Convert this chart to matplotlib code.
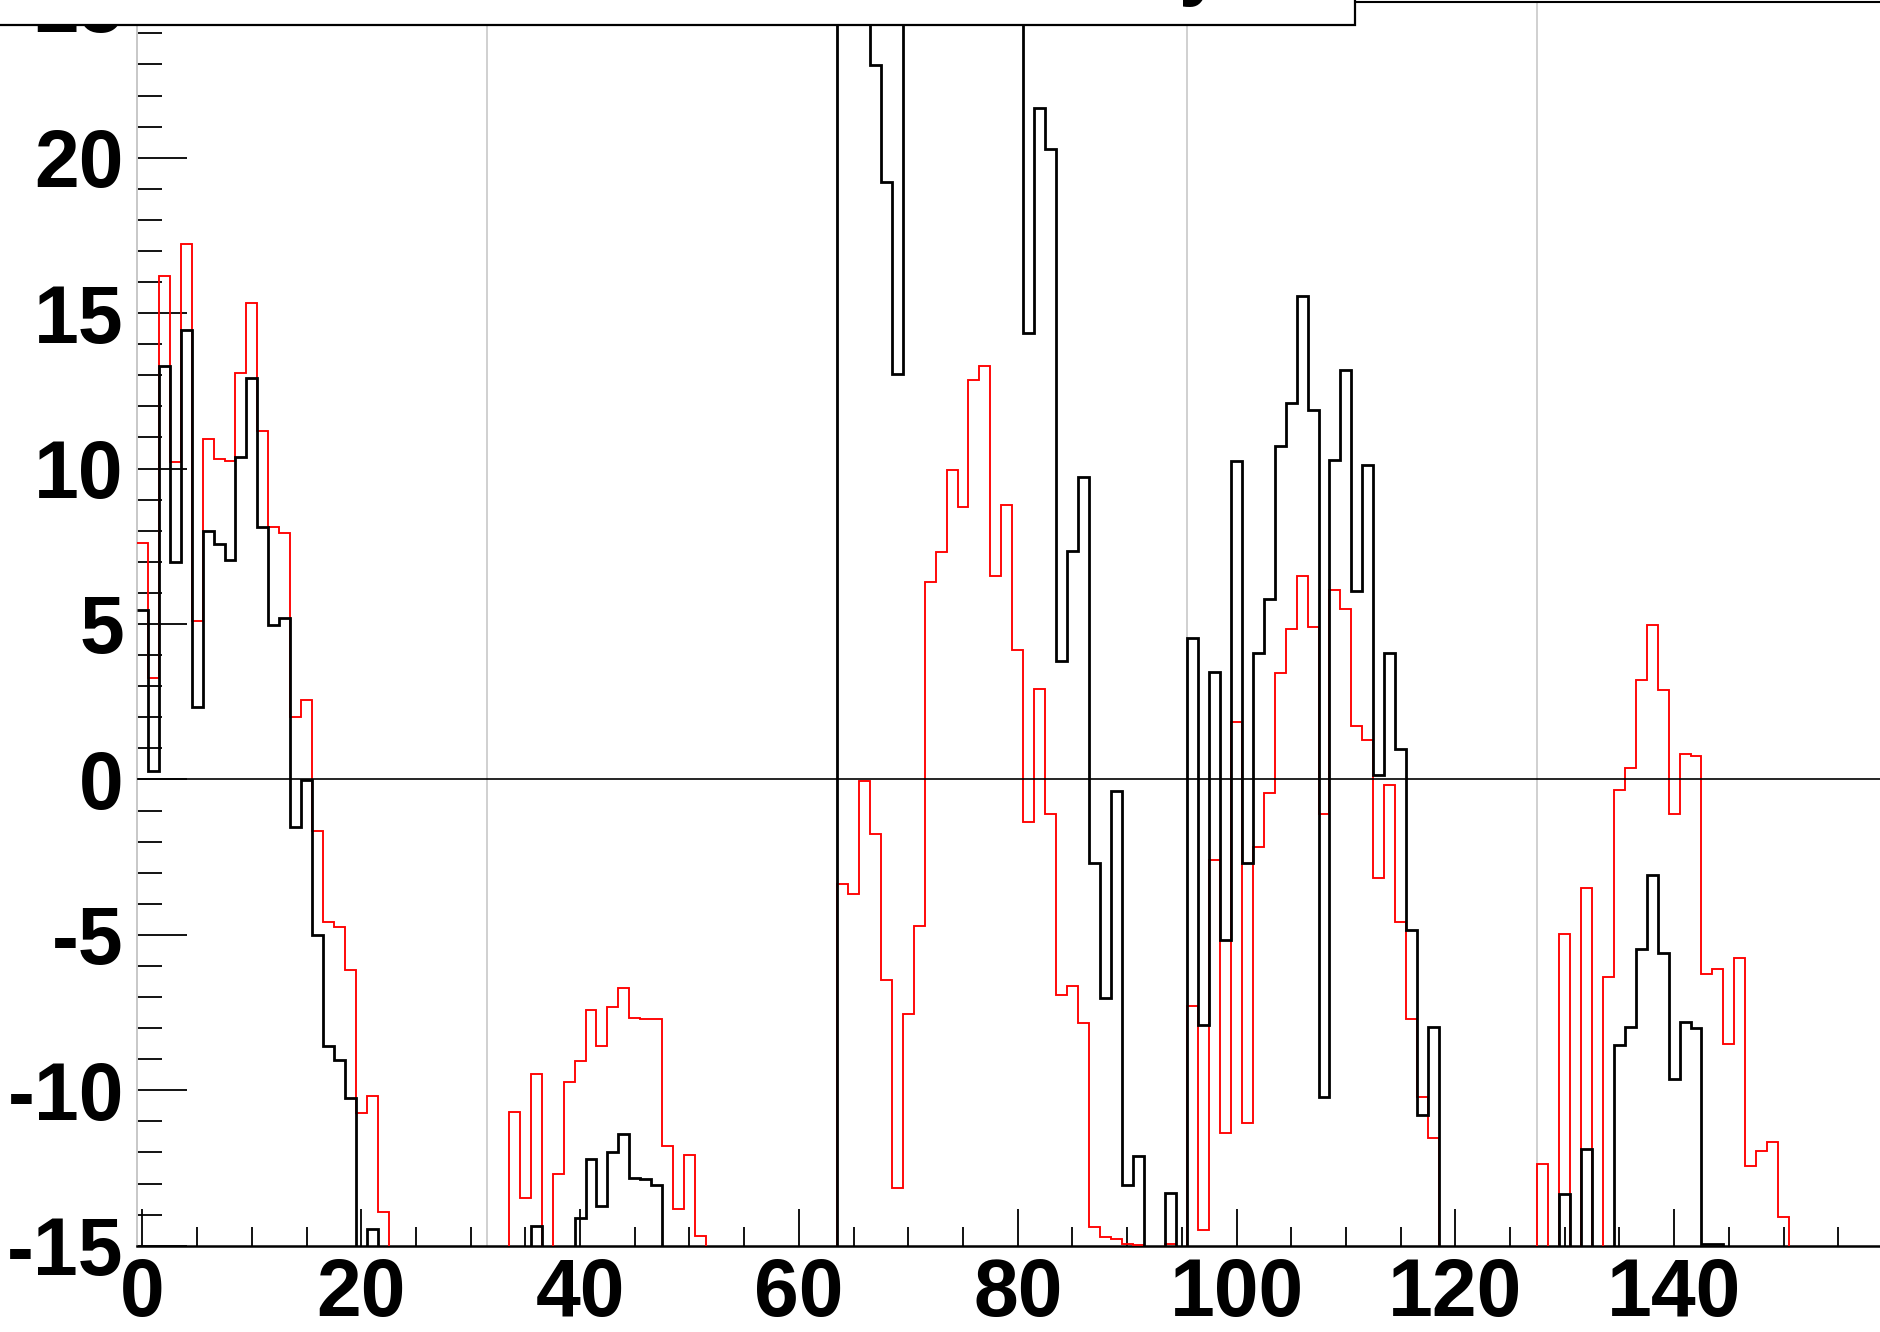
import numpy as np
import matplotlib
matplotlib.use("Agg")
import matplotlib.pyplot as plt
from matplotlib.ticker import MultipleLocator
from matplotlib.patches import Rectangle

plt.rcParams['font.family'] = ['Liberation Sans', 'DejaVu Sans']
plt.rcParams['axes.unicode_minus'] = False

# Off-scale placeholders (bins drawn beyond the visible frame)
LO = -16.0
HI = 26.0

# bin centres 0..159 (unit-width bins)
bin_centres = list(range(160))

red_values = [
    7.59, 3.26, 16.2, 10.2, 17.24, 5.1, 10.96, 10.3, 10.24, 13.09,      # 0-9
    15.33, 11.2, 8.13, 7.93, 2.0, 2.54, -1.65, -4.6, -4.74, -6.13,      # 10-19
    -10.72, -10.2, -13.9, LO, LO, LO, LO, LO, LO, LO,                   # 20-29
    LO, LO, LO, LO, -10.7, -13.46, -9.48, LO, -12.69, -9.74,            # 30-39
    -9.07, -7.41, -8.57, -7.32, -6.72, -7.67, -7.7, -7.7, -11.79, -13.81,  # 40-49
    -12.09, -14.7, LO, LO, LO, LO, LO, LO, LO, LO,                      # 50-59
    LO, LO, LO, LO, -3.38, -3.67, -0.05, -1.77, -6.46, -13.15,          # 60-69
    -7.54, -4.72, 6.36, 7.33, 9.95, 8.77, 12.85, 13.31, 6.54, 8.82,     # 70-79
    4.16, -1.36, 2.9, -1.1, -6.95, -6.64, -7.82, -14.41, -14.72, -14.79,  # 80-89
    -14.95, -14.97, LO, LO, -14.95, LO, -7.29, -14.49, -2.59, -11.37,   # 90-99
    1.86, -11.05, -2.18, -0.44, 3.42, 4.83, 6.54, 4.89, -1.1, 6.08,     # 100-109
    5.47, 1.73, 1.26, -3.17, -0.17, -4.6, -7.7, -10.23, -11.52, LO,     # 110-119
    LO, LO, LO, LO, LO, LO, LO, LO, -12.37, LO,                          # 120-129
    -4.97, LO, -3.49, LO, -6.36, -0.33, 0.37, 3.19, 4.98, 2.89,         # 130-139
    -1.11, 0.83, 0.75, -6.26, -6.09, -8.51, -5.75, -12.42, -11.94, -11.68,  # 140-149
    -14.09, LO, LO, LO, LO, LO, LO, LO, LO, LO,                         # 150-159
]

black_values = [
    5.46, 0.26, 13.3, 6.98, 14.46, 2.33, 7.98, 7.57, 7.07, 10.37,       # 0-9
    12.91, 8.11, 4.98, 5.2, -1.54, -0.02, -5.0, -8.57, -9.02, -10.24,   # 10-19
    LO, -14.46, LO, LO, LO, LO, LO, LO, LO, LO,                         # 20-29
    LO, LO, LO, LO, LO, LO, -14.38, LO, LO, LO,                         # 30-39
    -14.11, -12.2, -13.71, -11.98, -11.4, -12.82, -12.86, -13.04, LO, LO,  # 40-49
    LO, LO, LO, LO, LO, LO, LO, LO, LO, LO,                             # 50-59
    LO, LO, LO, LO, HI, HI, HI, 22.98, 19.21, 13.03,                    # 60-69
    HI, HI, HI, HI, HI, HI, HI, HI, HI, HI,                             # 70-79
    HI, 14.36, 21.59, 20.28, 3.82, 7.36, 9.72, -2.69, -7.02, -0.38,     # 80-89
    -13.05, -12.1, LO, LO, -13.32, LO, 4.55, -7.91, 3.46, -5.18,        # 90-99
    10.25, -2.68, 4.08, 5.82, 10.72, 12.11, 15.54, 11.89, -10.23, 10.29,  # 100-109
    13.18, 6.06, 10.1, 0.13, 4.08, 0.97, -4.85, -10.78, -7.95, LO,      # 110-119
    LO, LO, LO, LO, LO, LO, LO, LO, LO, LO,                             # 120-129
    -13.34, LO, -11.9, LO, LO, -8.54, -7.98, -5.45, -3.07, -5.57,       # 130-139
    -9.64, -7.81, -8.0, -14.93, -14.96, LO, LO, LO, LO, LO,             # 140-149
    LO, LO, LO, LO, LO, LO, LO, LO, LO, LO,                             # 150-159
]

separators = [31.5, 63.5, 95.5, 127.5]
x_ticks = [0, 20, 40, 60, 80, 100, 120, 140]
y_ticks = [-15, -10, -5, 0, 5, 10, 15, 20, 25]
title_text = "Residual Density"

W, H = 1881, 1332
fig = plt.figure(figsize=(W / 100, H / 100), dpi=100)
fig.patch.set_facecolor('white')

ax_left, ax_bottom_px, ax_top_px = 137, 1245.7, 2.3
ax = fig.add_axes([ax_left / W, (H - ax_bottom_px) / H,
                   (W - ax_left) / W, (ax_bottom_px - ax_top_px) / H])
ax.set_xlim(-0.5, 158.91)
ax.set_ylim(-15, 25)

edges = np.arange(len(bin_centres) + 1) - 0.5

for s in separators:
    ax.axvline(s, color='#c8c8c8', lw=1.2, zorder=1)

ax.stairs(red_values, edges, baseline=None, color='#ff0000', lw=1.35, zorder=3)
ax.stairs(black_values, edges, baseline=None, color='black', lw=2.0, zorder=4)
ax.axhline(0, color='black', lw=1.2, zorder=5)

# spines
ax.spines['right'].set_visible(False)
ax.spines['left'].set_color('#c8c8c8')
ax.spines['left'].set_linewidth(1.4)
ax.spines['bottom'].set_linewidth(1.8)
ax.spines['top'].set_linewidth(1.5)

ax.set_xticks(x_ticks)
ax.set_yticks(y_ticks)
ax.xaxis.set_minor_locator(MultipleLocator(5))
ax.yaxis.set_minor_locator(MultipleLocator(1))

ax.tick_params(axis='y', which='major', direction='in', length=36, width=1.3,
               color='black', pad=9.5, left=True, right=False)
ax.tick_params(axis='y', which='minor', direction='in', length=18, width=1.3,
               color='black', left=True, right=False)
ax.tick_params(axis='x', which='major', direction='in', length=27, width=1.3,
               color='black', pad=8, bottom=True, top=False)
ax.tick_params(axis='x', which='minor', direction='in', length=13.5, width=1.3,
               color='black', bottom=True, top=False)

for lab in ax.get_xticklabels() + ax.get_yticklabels():
    lab.set_fontsize(58)
    lab.set_fontweight('bold')
    lab.set_family(['Liberation Sans', 'DejaVu Sans'])

# title box (mostly cut off at the top of the image, as in the reference)
box = Rectangle((-0.01, (H - 25) / H), 1355 / W + 0.01, 0.2,
                transform=fig.transFigure, facecolor='white',
                edgecolor='black', lw=1.6, zorder=10, clip_on=False)
fig.add_artist(box)
fig.text(1224 / W, (H + 10) / H, title_text, ha='right', va='baseline',
         fontsize=58, fontweight='bold', color='black', zorder=11)

fig.savefig('out.png', dpi=100, facecolor='white')
